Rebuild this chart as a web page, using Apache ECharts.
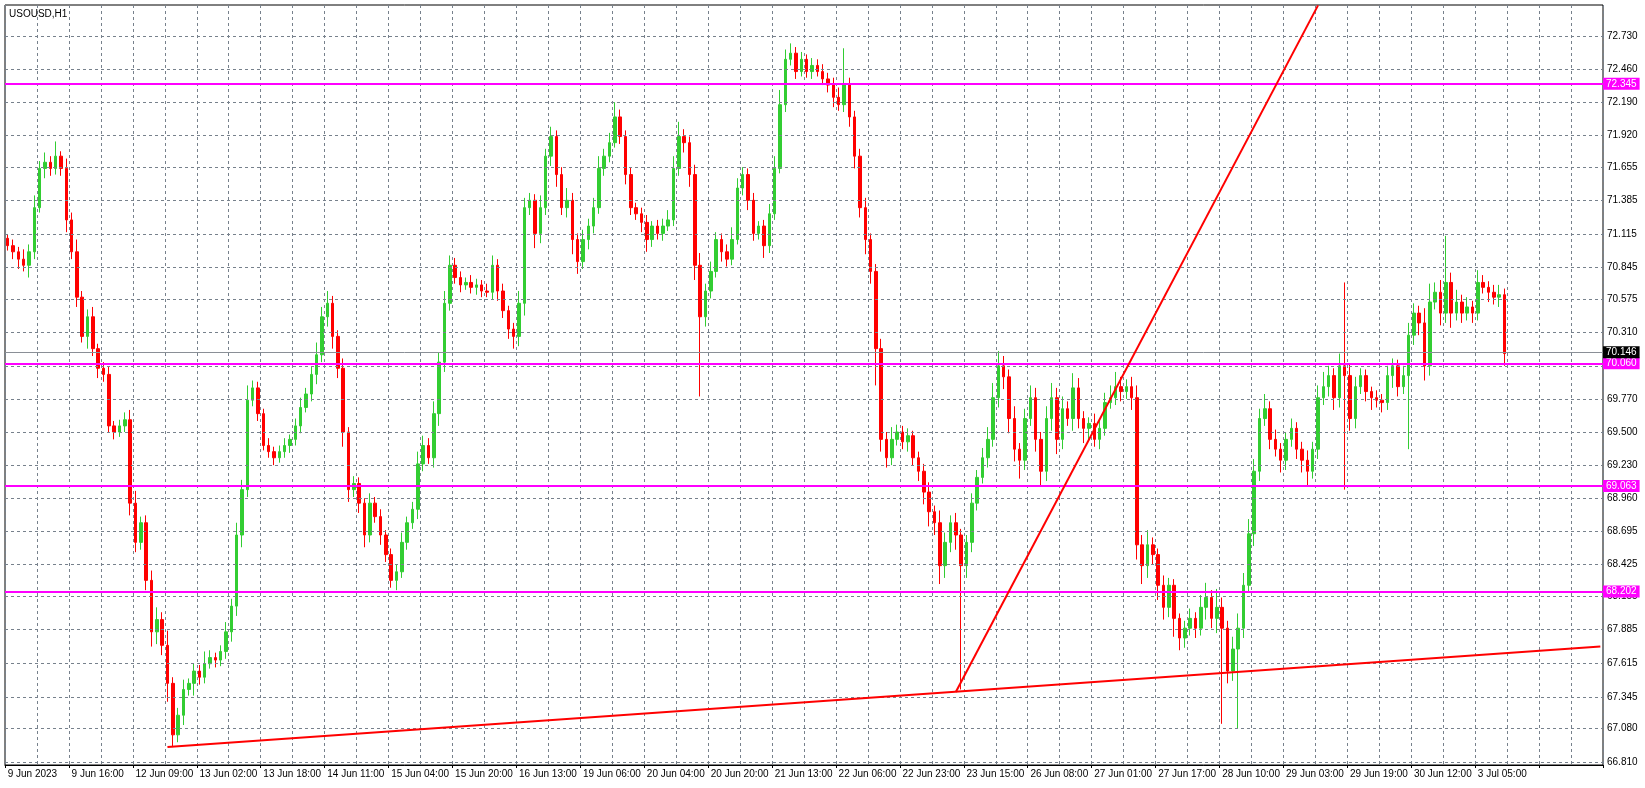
<!DOCTYPE html>
<html><head><meta charset="utf-8">
<script src="https://cdn.jsdelivr.net/npm/echarts@6/dist/echarts.min.js"></script>
<style>html,body{margin:0;padding:0;background:#fff}#c{width:1645px;height:788px}</style>
</head><body><div id="c"></div>
<script>
const symbolName = 'USOUSD,H1';
const tickLabels = ['9 Jun 2023','9 Jun 16:00','12 Jun 09:00','13 Jun 02:00','13 Jun 18:00','14 Jun 11:00','15 Jun 04:00','15 Jun 20:00','16 Jun 13:00','19 Jun 06:00','20 Jun 04:00','20 Jun 20:00','21 Jun 13:00','22 Jun 06:00','22 Jun 23:00','23 Jun 15:00','26 Jun 08:00','27 Jun 01:00','27 Jun 17:00','28 Jun 10:00','29 Jun 03:00','29 Jun 19:00','30 Jun 12:00','3 Jul 05:00'];
const priceTicks = [72.730,72.460,72.190,71.920,71.655,71.385,71.115,70.845,70.575,70.310,70.040,69.770,69.500,69.230,68.960,68.695,68.425,68.155,67.885,67.615,67.345,67.080,66.810];
const firstOpen = 71.08;
const closes = [
71.02,70.97,70.91,70.86,70.97,71.33,71.65,71.70,71.65,71.75,71.65,71.23,70.97,70.60,70.28,70.44,70.18,70.02,69.97,69.55,69.50,69.55,69.60,68.92,68.60,68.76,68.29,67.87,67.97,67.76,67.45,67.03,
67.19,67.40,67.45,67.55,67.50,67.61,67.66,67.64,67.71,67.87,68.08,
68.66,69.03,69.76,69.86,69.65,69.39,69.34,69.29,69.34,69.39,69.44,69.55,69.70,69.81,69.97,70.13,
70.44,70.55,70.28,70.02,69.50,69.03,69.08,68.92,68.66,68.92,68.81,68.66,68.50,68.29,68.36,68.60,68.76,68.87,69.24,69.39,69.29,69.65,70.07,70.55,
70.86,70.76,70.70,70.72,70.68,70.70,70.65,70.64,70.86,70.65,70.49,70.34,70.28,
70.55,71.33,71.39,71.12,71.33,71.75,71.91,71.60,71.33,71.39,71.07,70.89,71.07,
71.18,71.33,71.65,71.75,71.86,72.07,71.91,71.60,71.33,71.28,71.21,71.07,71.18,71.12,71.18,71.23,71.65,
71.91,71.86,71.60,70.86,70.44,70.65,70.81,71.07,70.97,70.91,71.07,71.49,71.60,71.39,71.12,71.18,71.02,71.28,71.65,72.17,72.54,
72.59,72.44,72.54,72.44,72.49,72.44,72.38,72.33,72.23,72.17,72.33,72.07,71.75,71.33,71.07,70.81,70.18,
69.44,69.29,69.44,69.50,69.42,69.47,69.29,69.18,69.01,68.85,68.76,68.41,68.60,68.76,68.66,68.41,68.60,68.92,69.13,69.29,69.44,69.78,
70.04,69.95,69.61,69.36,69.27,69.61,69.78,69.44,69.18,69.61,69.78,69.44,69.69,69.61,69.86,69.61,69.53,69.57,69.44,69.53,69.74,69.78,69.87,69.83,69.87,69.78,
68.58,68.41,68.58,68.50,68.25,68.07,68.25,67.98,67.82,67.90,67.98,67.90,68.07,68.15,67.98,68.07,67.90,67.55,67.73,67.90,
68.25,68.67,69.18,69.61,69.69,69.44,69.36,69.27,69.44,69.53,69.36,69.27,69.18,69.36,69.78,69.87,69.96,69.78,70.04,
69.96,69.61,69.87,69.96,69.83,69.78,69.76,69.74,69.96,70.04,69.87,69.96,70.29,70.47,70.39,70.04,70.56,70.64,70.47,70.72,70.47,70.56,70.47,70.52,70.47,70.72,70.68,70.64,70.60,70.62,70.14];
const wickUpCents = [
3,5,4,8,6,10,6,8,5,12,4,8,6,10,5,6,8,4,5,6,4,5,6,8,10,5,6,8,10,6,12,5,
6,8,4,6,5,10,6,4,5,8,6,
10,8,12,6,5,4,6,4,5,6,4,6,8,5,6,10,
8,10,6,5,8,4,6,5,4,8,5,6,4,5,6,8,5,6,10,8,6,10,8,10,
8,6,5,4,6,5,4,6,8,5,6,4,5,
10,8,6,5,10,6,8,5,6,10,6,5,8,
6,8,10,6,8,12,6,5,6,4,5,6,4,5,6,8,10,
12,6,5,8,10,6,8,6,5,6,10,8,6,5,6,4,5,8,10,12,8,
8,5,6,4,6,5,6,5,6,8,30,6,5,6,8,5,6,
8,6,10,6,5,6,4,5,6,8,5,10,8,6,8,5,6,8,6,8,10,12,
12,8,6,10,5,8,10,8,6,10,12,8,10,6,12,8,6,5,8,6,8,10,12,8,6,8,
10,8,12,6,5,8,6,5,4,6,8,5,10,12,6,15,8,6,10,12,
10,12,10,8,12,6,8,5,6,8,5,6,8,6,10,12,8,6,10,
68,10,8,6,5,4,6,5,8,6,5,8,10,8,6,12,15,8,10,38,8,10,6,8,5,10,6,5,6,8,5];
const wickDnCents = [
4,6,8,5,10,6,4,8,6,5,6,10,6,8,5,10,6,8,6,5,6,4,5,10,8,6,8,12,10,8,15,10,
6,8,5,10,6,5,4,6,5,6,8,
8,10,6,5,6,4,5,6,4,5,6,5,6,4,6,8,
6,8,10,8,12,10,6,8,10,6,5,8,6,6,8,5,6,5,8,6,5,8,10,8,
6,5,6,4,5,6,5,4,6,8,6,8,10,
8,10,6,12,8,6,8,10,6,8,12,10,6,
8,6,5,6,5,4,6,8,6,5,8,10,6,5,6,4,5,
6,8,10,12,65,8,6,5,8,6,5,4,6,8,6,5,10,6,5,4,6,
5,6,4,5,6,4,5,6,8,5,6,8,10,8,12,10,30,
10,8,6,5,6,8,6,8,10,12,10,15,10,8,12,101,10,8,6,5,8,6,
8,10,12,10,15,8,6,10,12,8,10,12,8,6,10,8,12,10,6,8,6,5,6,8,6,10,
12,15,10,8,12,10,8,15,10,8,6,8,6,10,8,12,78,10,8,65,
8,6,10,8,6,8,6,10,8,6,8,10,12,6,8,6,8,10,8,
93,10,8,6,8,10,6,8,6,10,8,6,60,8,10,12,8,6,10,8,12,6,8,6,8,6,5,8,6,8,10];
const levelLines = [72.345, 70.060, 69.063, 68.202];
const bidLine = 70.146;
const trendA = [[30, 66.93], [299, 67.75]];
const trendB = [[178, 67.38], [245.6, 72.98]];
const NCAT = 300;

const cats = [];
for (let i = 0; i < NCAT; i++) cats.push(String(i));
const ohlc = [];
for (let i = 0; i < closes.length; i++) {
  const o = i === 0 ? firstOpen : closes[i - 1];
  const c = closes[i];
  const hi = Math.max(o, c) + wickUpCents[i] / 100;
  const lo = Math.min(o, c) - wickDnCents[i] / 100;
  ohlc.push([o, c, +lo.toFixed(3), +hi.toFixed(3)]);
}
const F = 'Liberation Sans';
const chart = echarts.init(document.getElementById('c'));
const gridMarks = priceTicks.map(v => ({ yAxis: v, label: { formatter: v.toFixed(3) } }));
chart.setOption({
  animation: false,
  backgroundColor: '#ffffff',
  graphic: [{ type: 'text', left: 9, top: 9, style: { text: symbolName, font: '10px ' + F, fill: '#000' }, z: 100 }],
  grid: { left: 5, right: 42, top: 5, bottom: 23, show: true, borderColor: '#000', borderWidth: 1, backgroundColor: '#fff' },
  xAxis: {
    type: 'category', data: cats, boundaryGap: true,
    axisLine: { lineStyle: { color: '#000' } },
    axisTick: { show: true, interval: (i) => i % 12 === 0, length: 3, lineStyle: { color: '#000' } },
    axisLabel: { interval: (i) => i % 12 === 0, formatter: (v, i) => tickLabels[i / 12] || '', align: 'left', margin: 4, color: '#000', fontFamily: F, fontSize: 10 },
    splitLine: { show: true, interval: (i) => i % 6 === 0, lineStyle: { color: '#77818c', type: [3, 3], width: 1 } }
  },
  yAxis: { type: 'value', min: 66.784, max: 72.983, position: 'right', axisLabel: { show: false }, splitLine: { show: false }, axisLine: { show: false }, axisTick: { show: false } },
  series: [
    {
      type: 'line', data: [], silent: true,
      markLine: { symbol: 'none', silent: true, animation: false,
        lineStyle: { color: '#77818c', type: [3, 3], width: 1 },
        label: { position: 'end', color: '#000', fontFamily: F, fontSize: 10, distance: 4 },
        data: gridMarks }
    },
    {
      type: 'candlestick', data: ohlc, barWidth: 3,
      itemStyle: { color: '#32cd32', color0: '#ff0000', borderColor: '#32cd32', borderColor0: '#ff0000', borderWidth: 1 },
      markLine: { symbol: 'none', silent: true, animation: false, z: 10,
        label: { position: 'end', fontFamily: F, fontSize: 10, distance: 0, padding: [1, 3], color: '#fff' },
        data: [
          ...levelLines.map(v => ({ yAxis: v, lineStyle: { color: '#ff00ff', width: 2, type: 'solid' }, label: { formatter: v.toFixed(3), backgroundColor: '#ff00ff' } })),
          { yAxis: bidLine, lineStyle: { color: '#8a8f96', width: 1, type: 'solid' }, label: { formatter: bidLine.toFixed(3), backgroundColor: '#000' } },
          [{ coord: trendA[0], lineStyle: { color: '#ff0000', width: 2, type: 'solid' }, label: { show: false } }, { coord: trendA[1] }],
          [{ coord: trendB[0], lineStyle: { color: '#ff0000', width: 2, type: 'solid' }, label: { show: false } }, { coord: trendB[1] }]
        ] }
    }
  ]
});
</script></body></html>
